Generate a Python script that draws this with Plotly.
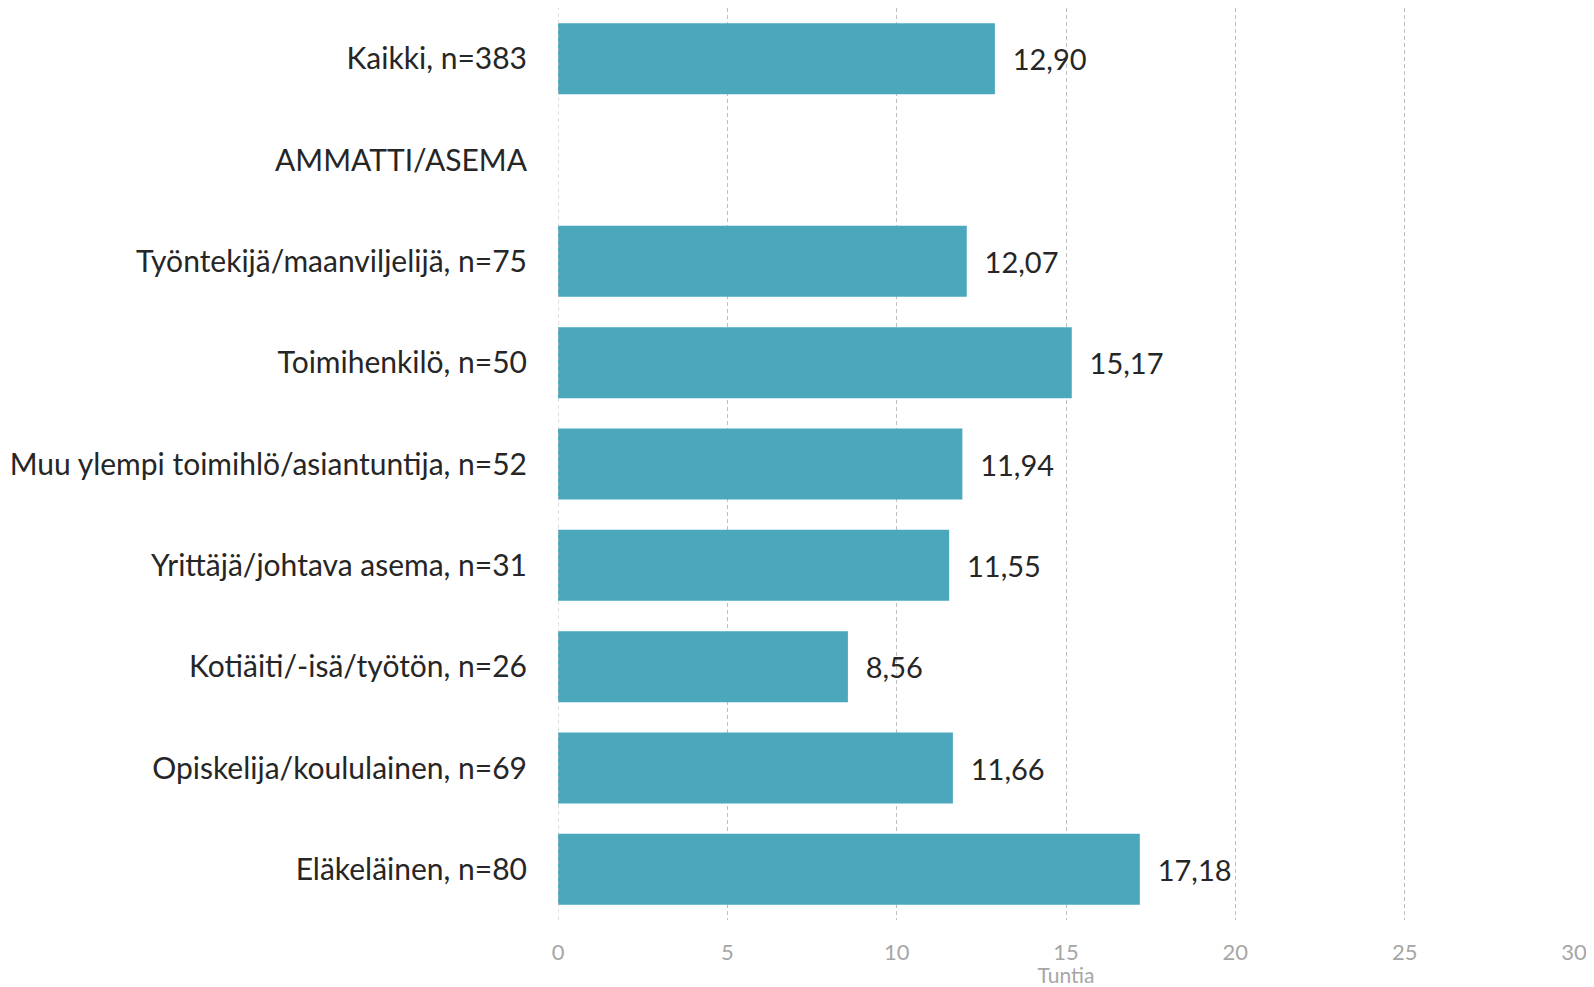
import plotly.graph_objects as go

categories = [
    "Kaikki, n=383",
    "AMMATTI/ASEMA",
    "Työntekijä/maanviljelijä, n=75",
    "Toimihenkilö, n=50",
    "Muu ylempi toimihlö/asiantuntija, n=52",
    "Yrittäjä/johtava asema, n=31",
    "Kotiäiti/-isä/työtön, n=26",
    "Opiskelija/koululainen, n=69",
    "Eläkeläinen, n=80",
]
values = [12.90, None, 12.07, 15.17, 11.94, 11.55, 8.56, 11.66, 17.18]
tick_vals = [0, 5, 10, 15, 20, 25, 30]

labels = ["" if v is None else "  " + f"{v:.2f}".replace(".", ",") for v in values]

FONT = "Lato, 'Open Sans', sans-serif"

fig = go.Figure(
    go.Bar(
        y=categories,
        x=values,
        orientation="h",
        marker=dict(color="#4BA7BC", line=dict(width=0)),
        width=0.7,
        text=labels,
        textposition="outside",
        textfont=dict(family=FONT, size=29, color="#262626"),
        cliponaxis=False,
    )
)

fig.update_layout(
    width=1586,
    height=979,
    margin=dict(l=550, r=20, t=0, b=67),
    plot_bgcolor="white",
    paper_bgcolor="white",
    showlegend=False,
    font=dict(family=FONT),
)
fig.update_xaxes(
    range=[0, 30],
    tickvals=tick_vals,
    showgrid=True,
    gridcolor="#BFBFBF",
    griddash="4px,3px",
    gridwidth=1,
    zeroline=False,
    showline=False,
    automargin=False,
    tickfont=dict(family=FONT, size=22, color="#A6A6A6"),
    title=dict(text="Tuntia", font=dict(family=FONT, size=21, color="#A6A6A6"), standoff=9),
    ticklen=0,
    ticks="",
    ticklabelstandoff=17,
)
fig.update_yaxes(
    categoryorder="array",
    categoryarray=categories,
    autorange="reversed",
    showgrid=False,
    zeroline=False,
    showline=False,
    automargin=False,
    tickfont=dict(family=FONT, size=30, color="#262626"),
    ticks="",
    ticklen=0,
    ticklabelstandoff=30,
)
# dashed line at x=0 like the reference
fig.add_shape(type="line", xref="x", yref="paper", x0=0, x1=0, y0=0, y1=1,
              line=dict(color="#BFBFBF", width=1, dash="4px,3px"))

fig.write_html("out.html")
